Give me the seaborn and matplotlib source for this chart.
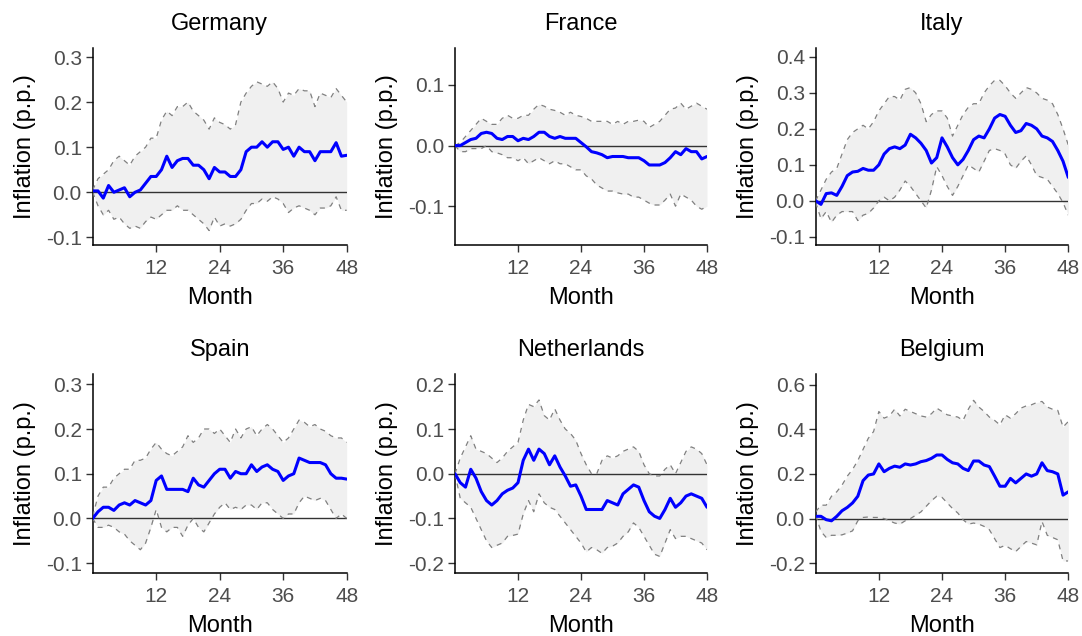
import numpy as np
import pandas as pd
import matplotlib
matplotlib.use("Agg")
import matplotlib.pyplot as plt
import seaborn as sns

months = list(range(49))

germany_mean = [0.003, 0.003, -0.013, 0.015, 0.0, 0.005, 0.01, -0.01, 0.0, 0.005, 0.02, 0.035, 0.035, 0.05, 0.08, 0.055, 0.07, 0.075, 0.075, 0.06, 0.06, 0.05, 0.03, 0.055, 0.045, 0.045, 0.035, 0.035, 0.05, 0.09, 0.1, 0.1, 0.112, 0.1, 0.112, 0.112, 0.095, 0.1, 0.08, 0.1, 0.09, 0.09, 0.07, 0.09, 0.09, 0.09, 0.11, 0.08, 0.082]
germany_upper = [0.005, 0.03, 0.04, 0.05, 0.07, 0.08, 0.07, 0.06, 0.08, 0.09, 0.1, 0.12, 0.12, 0.16, 0.18, 0.17, 0.19, 0.19, 0.2, 0.18, 0.17, 0.16, 0.14, 0.165, 0.155, 0.15, 0.14, 0.15, 0.2, 0.22, 0.235, 0.245, 0.24, 0.235, 0.245, 0.23, 0.2, 0.22, 0.215, 0.23, 0.225, 0.225, 0.19, 0.22, 0.215, 0.21, 0.23, 0.215, 0.2]
germany_lower = [0.0, -0.03, -0.05, -0.04, -0.06, -0.055, -0.07, -0.08, -0.075, -0.08, -0.065, -0.055, -0.06, -0.05, -0.04, -0.04, -0.03, -0.04, -0.04, -0.05, -0.06, -0.07, -0.085, -0.055, -0.075, -0.07, -0.075, -0.07, -0.06, -0.04, -0.025, -0.025, -0.015, -0.02, -0.01, -0.015, -0.025, -0.045, -0.035, -0.03, -0.035, -0.04, -0.05, -0.035, -0.035, -0.03, -0.01, -0.04, -0.04]

france_mean = [0.0, 0.0, 0.005, 0.01, 0.012, 0.02, 0.022, 0.02, 0.012, 0.01, 0.015, 0.015, 0.008, 0.012, 0.01, 0.015, 0.022, 0.022, 0.015, 0.012, 0.015, 0.012, 0.012, 0.012, 0.005, -0.002, -0.01, -0.012, -0.015, -0.02, -0.018, -0.018, -0.018, -0.02, -0.02, -0.02, -0.025, -0.032, -0.032, -0.032, -0.028, -0.02, -0.01, -0.015, -0.005, -0.01, -0.01, -0.022, -0.018]
france_upper = [0.0, 0.005, 0.015, 0.025, 0.035, 0.045, 0.04, 0.035, 0.035, 0.045, 0.05, 0.045, 0.045, 0.05, 0.05, 0.06, 0.068, 0.065, 0.06, 0.058, 0.055, 0.05, 0.055, 0.05, 0.048, 0.045, 0.04, 0.04, 0.04, 0.04, 0.035, 0.04, 0.035, 0.04, 0.04, 0.042, 0.04, 0.03, 0.035, 0.04, 0.05, 0.06, 0.062, 0.07, 0.06, 0.065, 0.07, 0.065, 0.06]
france_lower = [0.0, -0.01, -0.01, -0.005, -0.005, -0.005, 0.0, -0.01, -0.012, -0.015, -0.02, -0.02, -0.025, -0.02, -0.03, -0.025, -0.02, -0.025, -0.03, -0.025, -0.03, -0.03, -0.035, -0.04, -0.04, -0.05, -0.055, -0.065, -0.07, -0.075, -0.075, -0.078, -0.08, -0.08, -0.085, -0.085, -0.09, -0.095, -0.098, -0.098, -0.09, -0.08, -0.1, -0.08, -0.085, -0.09, -0.1, -0.105, -0.1]

italy_mean = [0.0, -0.01, 0.02, 0.022, 0.015, 0.04, 0.07, 0.08, 0.082, 0.09, 0.085, 0.085, 0.1, 0.13, 0.145, 0.15, 0.145, 0.155, 0.185, 0.175, 0.16, 0.14, 0.105, 0.12, 0.175, 0.15, 0.12, 0.1, 0.115, 0.14, 0.17, 0.18, 0.175, 0.2, 0.23, 0.24, 0.235, 0.21, 0.19, 0.195, 0.215, 0.21, 0.2, 0.18, 0.175, 0.165, 0.14, 0.11, 0.065]
italy_upper = [0.0, 0.03, 0.06, 0.08, 0.09, 0.13, 0.17, 0.19, 0.2, 0.21, 0.2, 0.22, 0.25, 0.27, 0.29, 0.29, 0.28, 0.31, 0.315, 0.3, 0.27, 0.22, 0.24, 0.25, 0.25, 0.23, 0.18, 0.21, 0.24, 0.26, 0.27, 0.27, 0.3, 0.32, 0.335, 0.335, 0.32, 0.3, 0.285, 0.3, 0.315, 0.31, 0.3, 0.285, 0.28, 0.27, 0.24, 0.2, 0.155]
italy_lower = [-0.005, -0.05, -0.03, -0.06, -0.04, -0.03, -0.03, -0.03, -0.055, -0.04, -0.035, -0.02, 0.0, 0.01, 0.0, 0.01, 0.03, 0.055, 0.04, 0.02, 0.0, -0.02, 0.03, 0.095, 0.07, 0.04, 0.015, 0.04, 0.07, 0.1, 0.09, 0.08, 0.11, 0.14, 0.145, 0.14, 0.13, 0.1, 0.09, 0.11, 0.125, 0.1, 0.07, 0.065, 0.06, 0.04, 0.02, -0.005, -0.04]

spain_mean = [0.0, 0.015, 0.025, 0.025, 0.018, 0.03, 0.035, 0.03, 0.04, 0.035, 0.03, 0.04, 0.085, 0.095, 0.065, 0.065, 0.065, 0.065, 0.06, 0.09, 0.075, 0.07, 0.085, 0.1, 0.11, 0.11, 0.09, 0.105, 0.1, 0.1, 0.12, 0.105, 0.115, 0.12, 0.11, 0.105, 0.085, 0.095, 0.1, 0.135, 0.13, 0.125, 0.125, 0.125, 0.12, 0.1, 0.09, 0.09, 0.088]
spain_upper = [0.005, 0.05, 0.07, 0.07, 0.09, 0.1, 0.11, 0.11, 0.13, 0.13, 0.135, 0.155, 0.17, 0.155, 0.145, 0.14, 0.15, 0.16, 0.185, 0.17, 0.18, 0.2, 0.2, 0.19, 0.2, 0.185, 0.17, 0.2, 0.18, 0.2, 0.205, 0.185, 0.2, 0.21, 0.2, 0.185, 0.17, 0.18, 0.2, 0.22, 0.215, 0.205, 0.21, 0.2, 0.195, 0.185, 0.18, 0.18, 0.17]
spain_lower = [0.0, -0.02, -0.02, -0.015, -0.02, -0.03, -0.035, -0.05, -0.06, -0.07, -0.055, -0.02, 0.02, -0.02, -0.03, -0.02, -0.02, -0.04, -0.015, 0.0, -0.02, -0.03, -0.01, 0.01, 0.025, 0.035, 0.02, 0.025, 0.02, 0.03, 0.03, 0.02, 0.035, 0.035, 0.02, 0.01, 0.0, 0.01, 0.01, 0.035, 0.05, 0.045, 0.04, 0.045, 0.04, 0.02, 0.0, 0.01, 0.0]

netherlands_mean = [0.0, -0.02, -0.03, 0.01, -0.01, -0.04, -0.06, -0.07, -0.06, -0.045, -0.037, -0.032, -0.02, 0.03, 0.055, 0.03, 0.055, 0.045, 0.02, 0.04, 0.015, -0.005, -0.028, -0.025, -0.05, -0.08, -0.08, -0.08, -0.08, -0.06, -0.065, -0.07, -0.045, -0.035, -0.025, -0.03, -0.06, -0.085, -0.095, -0.1, -0.08, -0.055, -0.075, -0.065, -0.05, -0.045, -0.05, -0.055, -0.075]
netherlands_upper = [0.0, 0.035, 0.06, 0.085, 0.055, 0.05, 0.045, 0.035, 0.025, 0.035, 0.05, 0.06, 0.07, 0.12, 0.155, 0.15, 0.165, 0.13, 0.12, 0.145, 0.12, 0.1, 0.09, 0.075, 0.045, 0.02, 0.0, 0.0, 0.03, 0.04, 0.035, 0.04, 0.05, 0.055, 0.06, 0.05, 0.02, 0.0, -0.005, -0.005, 0.01, 0.02, 0.0, 0.025, 0.05, 0.06, 0.055, 0.045, 0.02]
netherlands_lower = [0.0, -0.055, -0.065, -0.075, -0.1, -0.125, -0.15, -0.165, -0.16, -0.155, -0.14, -0.138, -0.135, -0.09, -0.06, -0.085, -0.045, -0.065, -0.075, -0.08, -0.095, -0.11, -0.125, -0.14, -0.155, -0.175, -0.165, -0.17, -0.178, -0.165, -0.162, -0.155, -0.14, -0.13, -0.11, -0.12, -0.14, -0.16, -0.18, -0.185, -0.155, -0.125, -0.145, -0.14, -0.14, -0.145, -0.15, -0.155, -0.17]

belgium_mean = [0.01, 0.01, -0.005, -0.01, 0.01, 0.035, 0.05, 0.07, 0.1, 0.17, 0.195, 0.2, 0.245, 0.21, 0.225, 0.235, 0.23, 0.245, 0.24, 0.245, 0.255, 0.26, 0.27, 0.285, 0.285, 0.265, 0.25, 0.245, 0.225, 0.215, 0.258, 0.258, 0.24, 0.233, 0.19, 0.145, 0.145, 0.18, 0.16, 0.18, 0.2, 0.19, 0.2, 0.25, 0.215, 0.21, 0.2, 0.105, 0.12]
belgium_upper = [0.03, 0.06, 0.06, 0.1, 0.12, 0.15, 0.19, 0.22, 0.26, 0.31, 0.36, 0.39, 0.48, 0.45, 0.46, 0.49, 0.46, 0.49, 0.48, 0.47, 0.46, 0.455, 0.47, 0.495, 0.48, 0.465, 0.46, 0.455, 0.44, 0.49, 0.53, 0.5, 0.48, 0.455, 0.44, 0.42, 0.465, 0.45, 0.47, 0.495, 0.505, 0.51, 0.52, 0.525, 0.5, 0.49, 0.485, 0.41, 0.435]
belgium_lower = [0.015, -0.058, -0.085, -0.075, -0.075, -0.073, -0.065, -0.055, -0.01, 0.005, 0.007, 0.005, 0.005, 0.0, -0.01, -0.02, -0.025, -0.01, 0.0, 0.015, 0.03, 0.055, 0.08, 0.1, 0.095, 0.07, 0.045, 0.025, -0.005, -0.025, -0.02, -0.025, -0.035, -0.05, -0.09, -0.13, -0.12, -0.135, -0.148, -0.125, -0.103, -0.11, -0.118, -0.013, -0.075, -0.085, -0.095, -0.19, -0.19]

countries = ["Germany", "France", "Italy", "Spain", "Netherlands", "Belgium"]
series = {
    "Germany": (germany_mean, germany_lower, germany_upper),
    "France": (france_mean, france_lower, france_upper),
    "Italy": (italy_mean, italy_lower, italy_upper),
    "Spain": (spain_mean, spain_lower, spain_upper),
    "Netherlands": (netherlands_mean, netherlands_lower, netherlands_upper),
    "Belgium": (belgium_mean, belgium_lower, belgium_upper),
}
y_ticks = {
    "Germany": [-0.1, 0.0, 0.1, 0.2, 0.3],
    "France": [-0.1, 0.0, 0.1],
    "Italy": [-0.1, 0.0, 0.1, 0.2, 0.3, 0.4],
    "Spain": [-0.1, 0.0, 0.1, 0.2, 0.3],
    "Netherlands": [-0.2, -0.1, 0.0, 0.1, 0.2],
    "Belgium": [-0.2, 0.0, 0.2, 0.4, 0.6],
}
y_limits = {
    "Germany": (-0.117, 0.32),
    "France": (-0.164, 0.161),
    "Italy": (-0.123, 0.425),
    "Spain": (-0.122, 0.323),
    "Netherlands": (-0.222, 0.223),
    "Belgium": (-0.244, 0.648),
}
x_ticks = [12, 24, 36, 48]

rows = []
for c in countries:
    m, lo, hi = series[c]
    for i, mo in enumerate(months):
        rows.append({"country": c, "Month": mo, "mean": m[i], "lower": lo[i], "upper": hi[i]})
df = pd.DataFrame(rows)

sns.set_theme(style="ticks")
plt.rcParams["font.family"] = ["Liberation Sans", "DejaVu Sans"]

W, H = 1082, 636
fig = plt.figure(figsize=(W / 100, H / 100), dpi=100)
fig.patch.set_facecolor("white")

col_px = [(92.7, 346.7), (455.0, 707.0), (815.7, 1068.3)]
row_px = [(48.0, 245.0), (374.0, 573.0)]

for k, c in enumerate(countries):
    r, cidx = divmod(k, 3)
    x0, x1 = col_px[cidx]
    t, b = row_px[r]
    ax = fig.add_axes([x0 / W, 1 - b / H, (x1 - x0) / W, (b - t) / H])
    d = df[df["country"] == c]
    ax.fill_between(d["Month"], d["lower"], d["upper"], color="#F0F0F0", lw=0, zorder=1)
    ax.axhline(0, color="#333333", lw=1.0, zorder=2)
    sns.lineplot(data=d, x="Month", y="upper", ax=ax, color="#808080", lw=0.9,
                 linestyle=(0, (4, 4)), zorder=3)
    sns.lineplot(data=d, x="Month", y="lower", ax=ax, color="#808080", lw=0.9,
                 linestyle=(0, (4, 4)), zorder=3)
    sns.lineplot(data=d, x="Month", y="mean", ax=ax, color="#0000FF", lw=2.2, zorder=4)
    ax.set_xlim(0, 48)
    ax.set_ylim(*y_limits[c])
    ax.set_xticks(x_ticks)
    ax.set_yticks(y_ticks[c])
    ax.set_yticklabels([f"{v:.1f}" for v in y_ticks[c]])
    ax.set_facecolor("white")
    sns.despine(ax=ax)
    for s in ["left", "bottom"]:
        ax.spines[s].set_color("black")
        ax.spines[s].set_linewidth(1.1)
    ax.tick_params(axis="both", labelsize=15, labelcolor="#4D4D4D", color="#333333",
                   length=4.8, width=1.0, direction="out", pad=3)
    ax.tick_params(axis="x", pad=5)
    ax.set_xlabel("Month", fontsize=17, color="black", labelpad=7)
    ax.set_ylabel("Inflation (p.p.)", fontsize=17, color="black", labelpad=7)
    ax.set_title(c, fontsize=17, color="black", pad=13)

fig.savefig("out.png", dpi=100, facecolor="white")
